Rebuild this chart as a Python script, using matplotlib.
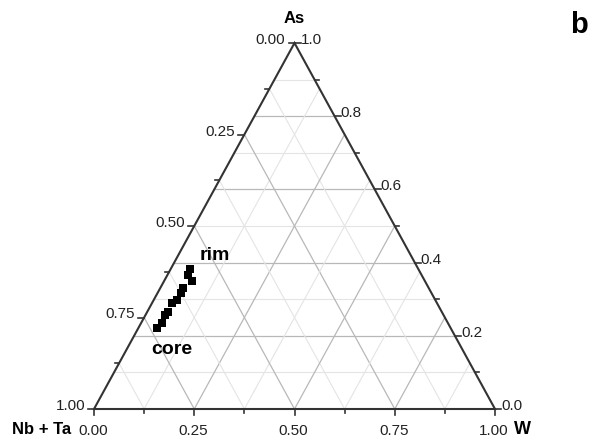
import numpy as np
import matplotlib.pyplot as plt

# compositions (fractions)
as_frac = [0.382, 0.366, 0.350, 0.331, 0.317, 0.298, 0.290, 0.265, 0.257, 0.235, 0.221]
w_frac = [0.048, 0.052, 0.069, 0.057, 0.059, 0.058, 0.050, 0.052, 0.049, 0.052, 0.046]

left_ticks = [0.00, 0.25, 0.50, 0.75, 1.00]     # Nb + Ta
bottom_ticks = [0.00, 0.25, 0.50, 0.75, 1.00]   # W
right_ticks = [0.0, 0.2, 0.4, 0.6, 0.8, 1.0]    # As

fam = ['Liberation Sans', 'DejaVu Sans']


def tern(a, w):
    a = np.asarray(a, float)
    w = np.asarray(w, float)
    return w + a / 2, a


def px(x, y):
    # pixel position -> data position (only used for text placement)
    return (x - 94) / 401, (409 - y) / 366


fig = plt.figure(figsize=(5.92, 4.43), dpi=100)
ax = fig.add_axes([0, 0, 1, 1])
ax.set_xlim(-94 / 401, (592 - 94) / 401)
ax.set_ylim(-34 / 366, (443 - 34) / 366)
ax.axis('off')

# grid lines
for i in range(1, 10):
    a = i / 10
    col, lw = ('#b8b8b8', 0.9) if i % 2 == 0 else ('#e4e4e4', 0.8)
    x0, y0 = tern(a, 0)
    x1, y1 = tern(a, 1 - a)
    ax.plot([x0, x1], [y0, y1], color=col, lw=lw, zorder=1)
for i in range(1, 8):
    v = i / 8
    col, lw = ('#b8b8b8', 0.9) if i % 2 == 0 else ('#e4e4e4', 0.8)
    # constant W
    x0, y0 = tern(0, v)
    x1, y1 = tern(1 - v, v)
    ax.plot([x0, x1], [y0, y1], color=col, lw=lw, zorder=1)
    # constant Nb + Ta
    x0, y0 = tern(0, 1 - v)
    x1, y1 = tern(1 - v, 0)
    ax.plot([x0, x1], [y0, y1], color=col, lw=lw, zorder=1)

# triangle
ax.plot([0, 1, 0.5, 0], [0, 0, 1, 0], color='#333333', lw=1.5, zorder=3,
        solid_joinstyle='miter')

# ticks
for i in range(9):
    v = i / 8
    ln = 6 if i % 2 == 0 else 4
    a = 1 - v
    x, y = tern(a, 0)
    ax.plot([x, x - ln / 401], [y, y], color='#333333', lw=1.2, zorder=3)
    x, y = tern(0, v)
    ax.plot([x, x], [y, y - ln / 366], color='#333333', lw=1.2, zorder=3)
for i in range(11):
    a = i / 10
    ln = 6 if i % 2 == 0 else 4
    x, y = tern(a, 1 - a)
    ax.plot([x, x + ln / 401], [y, y], color='#333333', lw=1.2, zorder=3)

# tick labels
for v in left_ticks:
    a = 1 - v
    sx, sy = 94 + 401 * a / 2, 409 - 366 * a
    ax.text(*px(sx - 9, sy - 3), f'{v:.2f}', ha='right', va='center',
            fontsize=11, family=fam, color='#222222')
for v in bottom_ticks:
    ax.text(*px(93 + 401 * v, 431), f'{v:.2f}', ha='center', va='center',
            fontsize=11, family=fam, color='#222222')
for a in right_ticks:
    sx, sy = 94 + 401 * (1 - a / 2), 409 - 366 * a
    ax.text(*px(sx + 6, sy - 3), f'{a:.1f}', ha='left', va='center',
            fontsize=11, family=fam, color='#222222')

# axis titles
ax.text(*px(294, 18), 'As', ha='center', va='center', fontsize=12,
        fontweight='bold', family=fam)
ax.text(*px(42, 429), 'Nb + Ta', ha='center', va='center', fontsize=12,
        fontweight='bold', family=fam)
ax.text(*px(522, 429), 'W', ha='center', va='center', fontsize=13,
        fontweight='bold', family=fam)
ax.text(*px(579, 25), 'b', ha='center', va='center', fontsize=21,
        fontweight='bold', family=fam)

# data
x, y = tern(as_frac, w_frac)
ax.scatter(x, y, marker='s', s=28, color='black', linewidths=0, zorder=4)
ax.text(*px(215, 256), 'rim', ha='center', va='center', fontsize=14,
        fontweight='bold', family=fam)
ax.text(*px(172, 350), 'core', ha='center', va='center', fontsize=14,
        fontweight='bold', family=fam)

fig.savefig('out.png', dpi=100)
